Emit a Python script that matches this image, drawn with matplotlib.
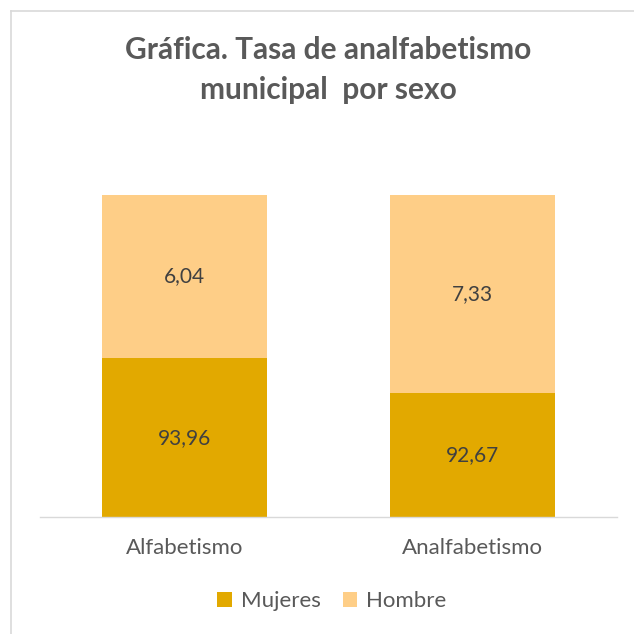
import matplotlib
matplotlib.use("Agg")
import matplotlib.pyplot as plt
import numpy as np
from matplotlib.lines import Line2D

plt.rcParams['font.family'] = ['Lato', 'DejaVu Sans']

categorias = ["Alfabetismo", "Analfabetismo"]
series = ["Mujeres", "Hombre"]
# bar segment shares as drawn (percent of the full bar)
mujeres_alto = [49.4, 38.7]
hombre_alto = [50.6, 61.3]
# values printed on the bars
mujeres_etq = ["93,96", "92,67"]
hombre_etq = ["6,04", "7,33"]

COL_MUJ = "#E2A900"
COL_HOM = "#FECE87"

fig = plt.figure(figsize=(6.34, 6.34), dpi=100)
ax = fig.add_axes([40 / 634, (634 - 517.3) / 634, (616.7 - 40) / 634, (517.3 - 195) / 634])

x = np.arange(len(categorias))
w = 0.573
b1 = ax.bar(x, mujeres_alto, w, color=COL_MUJ, label=series[0])
b2 = ax.bar(x, hombre_alto, w, bottom=mujeres_alto, color=COL_HOM, label=series[1])

for i in range(len(categorias)):
    ax.text(x[i], mujeres_alto[i] / 2, mujeres_etq[i], ha="center", va="center",
            fontsize=15, color="#404040")
    ax.text(x[i], mujeres_alto[i] + hombre_alto[i] / 2, hombre_etq[i], ha="center",
            va="center", fontsize=15, color="#404040")

ax.set_xlim(-0.5, 1.5)
ax.set_ylim(0, 100)
ax.set_yticks([])
ax.set_xticks(x)
ax.set_xticklabels(categorias, fontsize=16, color="#595959")
ax.tick_params(axis="x", length=0, pad=15)
for s in ["top", "right", "left"]:
    ax.spines[s].set_visible(False)
ax.spines["bottom"].set_color("#D9D9D9")
ax.spines["bottom"].set_linewidth(1.0)

fig.text(328 / 634, 1 - 70 / 634, "Gráfica. Tasa de analfabetismo\nmunicipal  por sexo",
         ha="center", va="center", fontsize=21.5, fontweight="bold", color="#595959",
         linespacing=1.5)

fig.legend(handles=[b1, b2], labels=series, loc="center", bbox_to_anchor=(332 / 634, 1 - 601 / 634),
           ncol=2, frameon=False, fontsize=16, labelcolor="#595959", handlelength=0.65,
           handleheight=0.65, handletextpad=0.4, columnspacing=1.0)

# chart frame (only left and top edges fall inside the picture)
fig.add_artist(Line2D([10.5 / 634, 10.5 / 634], [0, 1 - 10.5 / 634], color="#D9D9D9", lw=1.2))
fig.add_artist(Line2D([10.5 / 634, 1], [1 - 10.5 / 634, 1 - 10.5 / 634], color="#D9D9D9", lw=1.2))

fig.savefig("out.png", dpi=100)
